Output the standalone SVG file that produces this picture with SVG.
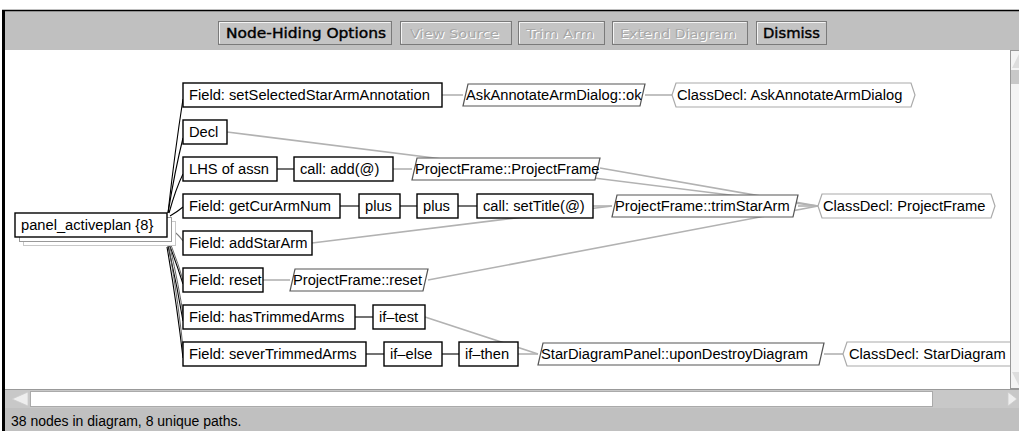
<svg xmlns="http://www.w3.org/2000/svg" width="1019" height="431" viewBox="0 0 1019 431">
<defs>
<style>
.t{font-family:"Liberation Sans",Arial,sans-serif;font-size:14.7px;fill:#000}
.st{font-family:"Liberation Sans",Arial,sans-serif;font-size:14px;fill:#000}
.r{fill:#fff;stroke:#000;stroke-width:1.4}
.p{fill:#fff;stroke:#555;stroke-width:1.2}
.h{fill:#fff;stroke:#aaa;stroke-width:1.2}
.bl{stroke:#000;stroke-width:1.1;fill:none}
.bg{stroke:#555;stroke-width:0.9;fill:none}
.gl{stroke:#b2b2b2;stroke-width:1.6;fill:none}
.dl{stroke:#777;stroke-width:1.1;fill:none}
.btn{fill:#c4c4c4;stroke:#7a7a7a;stroke-width:1}
.hi{stroke:#f4f4f4;stroke-width:1;fill:none}
.bt{font-family:"DejaVu Sans Condensed","DejaVu Sans",sans-serif;font-size:14px;fill:#000;stroke:#000;stroke-width:0.35}
.bd{font-family:"DejaVu Sans Condensed","DejaVu Sans",sans-serif;font-size:13px;fill:#a8a8a8}
.bds{font-family:"DejaVu Sans Condensed","DejaVu Sans",sans-serif;font-size:13px;fill:#fff}
</style>
</defs>
<rect x="0" y="0" width="1019" height="431" fill="#fff"/>
<rect x="2" y="10" width="1017" height="40" fill="#c0c0c0"/>
<line x1="2" y1="10.5" x2="1019" y2="10.5" stroke="#000" stroke-width="1.5"/>
<g id="toolbar">
<rect class="btn" x="218.5" y="21.5" width="173" height="23"/><polyline class="hi" points="219.5,43.5 219.5,22.5 390.5,22.5"/>
<text class="bt" x="226" y="38" textLength="160" lengthAdjust="spacingAndGlyphs">Node-Hiding Options</text>
<rect class="btn" x="400.5" y="21.5" width="111" height="23"/><polyline class="hi" points="401.5,43.5 401.5,22.5 510.5,22.5"/>
<text class="bds" x="411" y="39" textLength="89" lengthAdjust="spacingAndGlyphs">View Source</text>
<text class="bd" x="410" y="38" textLength="89" lengthAdjust="spacingAndGlyphs">View Source</text>
<rect class="btn" x="518.5" y="21.5" width="86" height="23"/><polyline class="hi" points="519.5,43.5 519.5,22.5 603.5,22.5"/>
<text class="bds" x="527" y="39" textLength="68" lengthAdjust="spacingAndGlyphs">Trim Arm</text>
<text class="bd" x="526" y="38" textLength="68" lengthAdjust="spacingAndGlyphs">Trim Arm</text>
<rect class="btn" x="612.5" y="21.5" width="135" height="23"/><polyline class="hi" points="613.5,43.5 613.5,22.5 746.5,22.5"/>
<text class="bds" x="621" y="39" textLength="116" lengthAdjust="spacingAndGlyphs">Extend Diagram</text>
<text class="bd" x="620" y="38" textLength="116" lengthAdjust="spacingAndGlyphs">Extend Diagram</text>
<rect class="btn" x="756.5" y="21.5" width="70" height="23"/><polyline class="hi" points="757.5,43.5 757.5,22.5 825.5,22.5"/>
<text class="bt" x="763" y="38" textLength="57" lengthAdjust="spacingAndGlyphs">Dismiss</text>
</g>
<rect x="5" y="50" width="1005" height="339" fill="#fff"/>
<g id="connectors">
<path class="bl" d="M168,213 Q175,150 183,99"/>
<path class="bl" d="M168,213 Q175,170 183,138"/>
<path class="bl" d="M169,213 Q176,188 183,174"/>
<path class="bl" d="M170,216 Q177,212 183,207"/>
<path class="dl" d="M173,231 Q178,234 183,241"/>
<path class="bl" d="M169,244 Q176,262 183,284"/>
<path class="bg" d="M171,245 Q178,263 184,283"/>
<path class="bl" d="M168,246 Q177,285 183,321"/>
<path class="bg" d="M170,247 Q179,286 184,320"/>
<path class="bl" d="M167,247 Q177,305 183,358"/>
<path class="bg" d="M169,248 Q179,306 184,357"/>
<line class="gl" x1="442" y1="95" x2="463" y2="95"/>
<line class="gl" x1="645" y1="95" x2="672" y2="95"/>
<line class="bl" x1="277" y1="169" x2="294" y2="169"/>
<line class="gl" x1="393" y1="169" x2="412" y2="169"/>
<line class="bl" x1="340" y1="206" x2="359" y2="206"/>
<line class="bl" x1="400" y1="206" x2="417" y2="206"/>
<line class="bl" x1="458" y1="206" x2="477" y2="206"/>
<line class="gl" x1="593" y1="206" x2="612" y2="206"/>
<line class="gl" x1="312" y1="243" x2="612" y2="206"/>
<line class="gl" x1="263" y1="280" x2="290" y2="280"/>
<line class="bl" x1="355" y1="317" x2="373" y2="317"/>
<line class="bl" x1="366" y1="354" x2="384" y2="354"/>
<line class="bl" x1="442" y1="354" x2="459" y2="354"/>
<line class="gl" x1="518" y1="354" x2="538" y2="354"/>
<line class="gl" x1="425" y1="317" x2="538" y2="354"/>
<line class="gl" x1="824" y1="354" x2="843" y2="354"/>
<line class="gl" x1="227" y1="132" x2="818" y2="206"/>
<line class="gl" x1="600" y1="168" x2="818" y2="206"/>
<line class="gl" x1="428" y1="280" x2="818" y2="206"/>
<line class="gl" x1="798" y1="206" x2="818" y2="206"/>
</g>
<g id="panel">
<rect x="23.5" y="221.5" width="152" height="24" fill="#fff" stroke="#c8c8c8"/>
<rect x="19.5" y="217.5" width="152" height="24" fill="#fff" stroke="#999"/>
<rect class="r" x="15" y="213" width="152" height="24"/>
<text class="t" x="21" y="230">panel_activeplan {8}</text>
</g>
<g id="n1"><rect class="r" x="183" y="83" width="259" height="24"/><text class="t" x="189" y="100">Field: setSelectedStarArmAnnotation</text></g>
<g id="n2"><path class="p" d="M463,106 L468,84 L645,84 L640,106 Z"/><text class="t" x="466" y="100">AskAnnotateArmDialog::ok</text></g>
<g id="n3"><path class="h" d="M672,95 L676,83 L911,83 L915,95 L911,107 L676,107 Z"/><text class="t" x="677" y="100">ClassDecl: AskAnnotateArmDialog</text></g>
<g id="n4"><rect class="r" x="183" y="120" width="44" height="24"/><text class="t" x="189" y="137">Decl</text></g>
<g id="n5"><rect class="r" x="183" y="157" width="94" height="24"/><text class="t" x="189" y="174">LHS of assn</text></g>
<g id="n6"><rect class="r" x="294" y="157" width="99" height="24"/><text class="t" x="300" y="174">call: add(@)</text></g>
<g id="n7"><path class="p" d="M412,180 L417,158 L600,158 L595,180 Z"/><text class="t" x="415" y="174">ProjectFrame::ProjectFrame</text></g>
<g id="n8"><rect class="r" x="183" y="194" width="157" height="24"/><text class="t" x="189" y="211">Field: getCurArmNum</text></g>
<g id="n9"><rect class="r" x="359" y="194" width="41" height="24"/><text class="t" x="365" y="211">plus</text></g>
<g id="n10"><rect class="r" x="417" y="194" width="41" height="24"/><text class="t" x="423" y="211">plus</text></g>
<g id="n11"><rect class="r" x="477" y="194" width="116" height="24"/><text class="t" x="483" y="211">call: setTitle(@)</text></g>
<g id="n12"><path class="p" d="M612,217 L617,195 L798,195 L793,217 Z"/><text class="t" x="615" y="211">ProjectFrame::trimStarArm</text></g>
<g id="n13"><path class="h" d="M818,206 L822,194 L991,194 L995,206 L991,218 L822,218 Z"/><text class="t" x="823" y="211">ClassDecl: ProjectFrame</text></g>
<g id="n14"><rect class="r" x="183" y="231" width="129" height="24"/><text class="t" x="189" y="248">Field: addStarArm</text></g>
<g id="n15"><rect class="r" x="183" y="268" width="80" height="24"/><text class="t" x="189" y="285">Field: reset</text></g>
<g id="n16"><path class="p" d="M290,291 L295,269 L428,269 L423,291 Z"/><text class="t" x="293" y="285">ProjectFrame::reset</text></g>
<g id="n17"><rect class="r" x="183" y="305" width="172" height="24"/><text class="t" x="189" y="322">Field: hasTrimmedArms</text></g>
<g id="n18"><rect class="r" x="373" y="305" width="52" height="24"/><text class="t" x="379" y="322">if–test</text></g>
<g id="n19"><rect class="r" x="183" y="342" width="183" height="24"/><text class="t" x="189" y="359">Field: severTrimmedArms</text></g>
<g id="n20"><rect class="r" x="384" y="342" width="58" height="24"/><text class="t" x="390" y="359">if–else</text></g>
<g id="n21"><rect class="r" x="459" y="342" width="59" height="24"/><text class="t" x="465" y="359">if–then</text></g>
<g id="n22"><path class="p" d="M538,365 L543,343 L824,343 L819,365 Z"/><text class="t" x="541" y="359">StarDiagramPanel::uponDestroyDiagram</text></g>
<g id="n23"><path class="h" d="M843,354 L847,342 L1030,342 L1030,366 L847,366 Z"/><text class="t" x="849" y="359">ClassDecl: StarDiagram</text></g>
<g id="vscroll">
<rect x="1010.5" y="50.5" width="9" height="338" fill="#f4f4f4" stroke="#999"/>
<path d="M1012,68 L1019,54 L1019,68 Z" fill="#ddd"/>
<rect x="1011" y="70" width="8" height="14" fill="#c8c8c8"/>
<path d="M1012,372 L1019,386 L1019,372 Z" fill="#ddd"/>
</g>
<g id="hscroll">
<rect x="5" y="389" width="1014" height="19" fill="#c8c8c8"/>
<line x1="5" y1="389.5" x2="1019" y2="389.5" stroke="#999"/>
<rect x="30.5" y="391.5" width="902" height="15" fill="#fff" stroke="#aaa"/>
<path d="M12,399 L28,392 L28,406 Z" fill="#eee" stroke="#ccc" stroke-width="0.8"/>
<path d="M1017,399 L1008,392 L1008,406 Z" fill="#eee" stroke="#ccc" stroke-width="0.8"/>
</g>
<rect x="5" y="408" width="1014" height="23" fill="#c0c0c0"/>
<text class="st" x="11" y="426">38 nodes in diagram, 8 unique paths.</text>
<rect x="2" y="10" width="3" height="421" fill="#000"/>
</svg>
